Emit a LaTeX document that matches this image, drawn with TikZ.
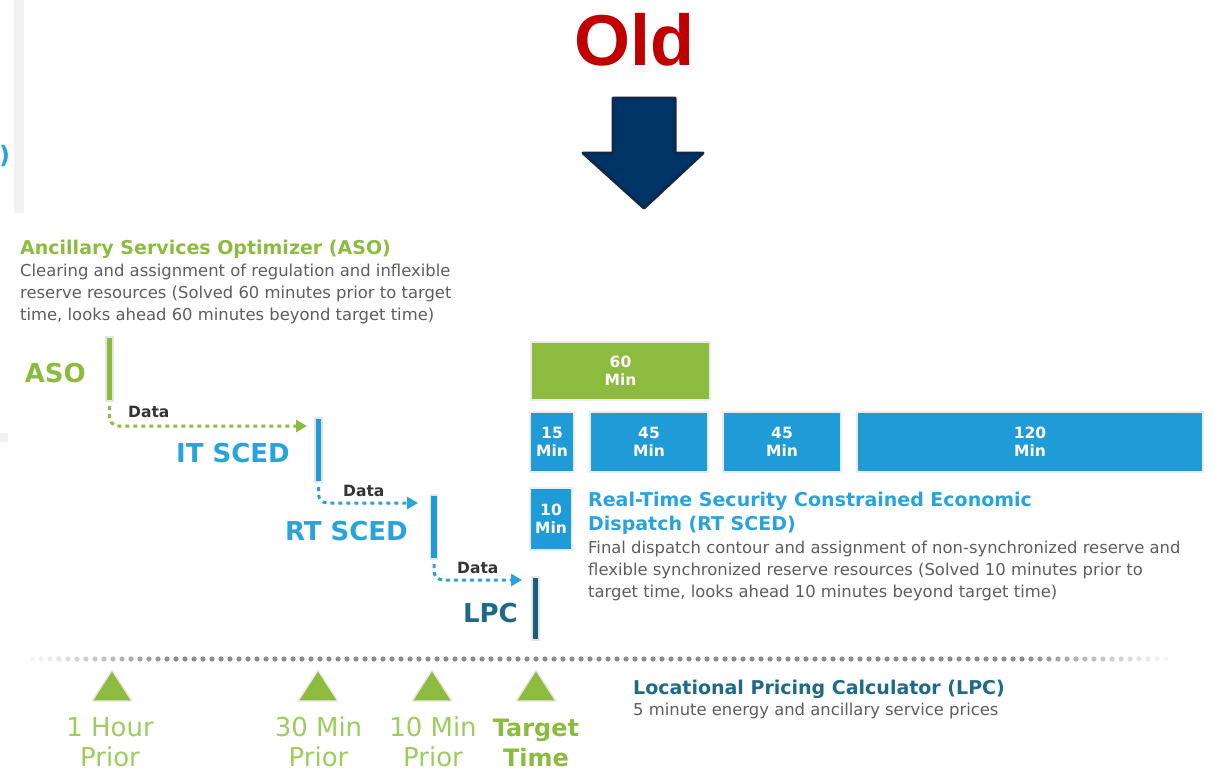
\documentclass[tikz,border=0pt]{standalone}
\usepackage{fontspec}
\setmainfont{DejaVu Sans}
\newfontfamily\oldfont{Liberation Sans}
\usetikzlibrary{arrows.meta,calc}
\definecolor{asog}{HTML}{8DBB3F}
\definecolor{tlg}{HTML}{9ECC5E}
\definecolor{blu}{HTML}{1F9BD7}
\definecolor{blut}{HTML}{29A3DC}
\definecolor{teal}{HTML}{175F7D}
\definecolor{tealt}{HTML}{1E6A88}
\definecolor{txtg}{HTML}{5E5E5E}
\definecolor{datag}{HTML}{333333}
\definecolor{oldred}{HTML}{C00000}
\definecolor{navy}{HTML}{003366}
\definecolor{navyb}{HTML}{0D2A4D}
\begin{document}
\begin{tikzpicture}[x=1pt,y=-1pt,
  bar/.style={draw=black!10, line width=1.5pt, minimum width=7pt, inner sep=0pt, outer sep=0pt},
  box/.style={draw=black!8, line width=2pt, inner sep=0pt, text=white, align=center,
    font=\bfseries\fontsize{15.5}{18}\selectfont},
  lbl/.style={font=\bfseries\fontsize{26}{30}\selectfont, inner sep=0pt, anchor=base east},
  title/.style={font=\bfseries\fontsize{19}{22}\selectfont, inner sep=0pt, anchor=base west},
  desc/.style={font=\fontsize{16.4}{20}\selectfont, text=txtg, inner sep=0pt, anchor=base west},
  datalbl/.style={font=\bfseries\fontsize{15.5}{18}\selectfont, text=datag, inner sep=0pt, anchor=base west},
  conn/.style={line width=3pt, dash pattern=on 4pt off 4pt, rounded corners=9pt,
    -{Triangle[length=11pt,width=12pt]}},
  tl/.style={font=\fontsize{26}{30}\selectfont, text=tlg, inner sep=0pt, anchor=base},
  tlb/.style={font=\bfseries\fontsize{24}{30}\selectfont, text=asog, inner sep=0pt, anchor=base},
  tri/.style={fill=asog, draw=black!8, line width=1.5pt, line join=round}
]
\fill[white] (0,0) rectangle (1214,772);
\useasboundingbox (0,0) rectangle (1214,772);

% left remnants
\fill[black!5] (14,0) rectangle (24,213);
\fill[black!5] (0,433) rectangle (8,442);
\node[text=blut, font=\bfseries\fontsize{24}{30}\selectfont, anchor=base west, inner sep=0pt] (paren) at (-1,163) {)};

% Old + arrow
\node[font=\oldfont\bfseries\fontsize{72}{80}\selectfont, text=oldred, anchor=base, inner sep=0pt] (old) at (634,65) {Old};
\draw[fill=navy, draw=navyb, line width=3pt, line join=round]
  (613,98) -- (675,98) -- (675,153) -- (703,153) -- (644,208) -- (583,153) -- (613,153) -- cycle;

% ASO text
\node[title, text=asog] (asotitle) at (20,254) {Ancillary Services Optimizer (ASO)};
\node[desc] (asod1) at (20,276) {Clearing and assignment of regulation and inflexible};
\node[desc] (asod2) at (20,298) {reserve resources (Solved 60 minutes prior to target};
\node[desc] (asod3) at (20,320) {time, looks ahead 60 minutes beyond target time)};

% bars
\node[bar, fill=asog, minimum height=64pt] (asobar) at (109.5,369) {};
\node[bar, fill=blu, minimum height=64pt] (itbar) at (318.5,450) {};
\node[bar, fill=blu, minimum height=64pt] (rtbar) at (434,527) {};
\node[bar, fill=teal, minimum height=63pt] (lpcbar) at (535.5,608.5) {};

% labels
\node[lbl, text=asog] (asol) at (86,382) {ASO};
\node[lbl, text=blut] (itl) at (290,462) {IT SCED};
\node[lbl, text=blut] (rtl) at (408,540) {RT SCED};
\node[lbl, text=tealt] (lpcl) at (518,622) {LPC};

% data connectors
\coordinate (d1) at (307,426);
\coordinate (d2) at (418,503);
\coordinate (d3) at (522,580);
\draw[conn, draw=asog] ($(asobar.south)+(0,5)$) |- (d1);
\draw[conn, draw=blut] ($(itbar.south)+(0,5)$) |- (d2);
\draw[conn, draw=blut] ($(rtbar.south)+(0,5)$) |- (d3);
\node[datalbl] (data1) at (128,417) {Data};
\node[datalbl] (data2) at (343,496) {Data};
\node[datalbl] (data3) at (457,573) {Data};

% boxes
\node[box, fill=asog, minimum width=179pt, minimum height=58pt] (b60) at (620.5,371) {60\\Min};
\node[box, fill=blu, minimum width=44pt, minimum height=60pt] (b15) at (552,442) {15\\Min};
\node[box, fill=blu, minimum width=118pt, minimum height=60pt] (b45a) at (649,442) {45\\Min};
\node[box, fill=blu, minimum width=118pt, minimum height=60pt] (b45b) at (782,442) {45\\Min};
\node[box, fill=blu, minimum width=346pt, minimum height=60pt] (b120) at (1030,442) {120\\Min};
\node[box, fill=blu, minimum width=42pt, minimum height=62pt] (b10) at (551,519) {10\\Min};

% RT SCED text
\node[title, text=blut] (rtt1) at (588,506) {Real-Time Security Constrained Economic};
\node[title, text=blut] (rtt2) at (588,530) {Dispatch (RT SCED)};
\node[desc] (rtd1) at (588,553) {Final dispatch contour and assignment of non-synchronized reserve and};
\node[desc] (rtd2) at (588,575) {flexible synchronized reserve resources (Solved 10 minutes prior to};
\node[desc] (rtd3) at (588,597) {target time, looks ahead 10 minutes beyond target time)};

% LPC text
\node[title, text=tealt] (lpct) at (633,694) {Locational Pricing Calculator (LPC)};
\node[desc] (lpcd) at (633,715) {5 minute energy and ancillary service prices};

% timeline dots
\foreach \x in {32,41,...,1168} {
  \pgfmathsetmacro\op{max(0.08,min(1,(\x-24)/150,(1176-\x)/150))}
  \fill[black!45, opacity=\op] (\x,659) circle (2.6pt);
}

% triangles
\foreach \x in {112,318,432,536} {
  \draw[tri] (\x-20,701) -- (\x,670) -- (\x+20,701) -- cycle;
}

% timeline labels
\node[tl] (h1a) at (110,736) {1 Hour};
\node[tl] (h1b) at (110,766) {Prior};
\node[tl] (m30a) at (318.5,736) {30 Min};
\node[tl] (m30b) at (318.5,766) {Prior};
\node[tl] (m10a) at (433,736) {10 Min};
\node[tl] (m10b) at (433,766) {Prior};
\node[tlb] (tta) at (536,736) {Target};
\node[tlb] (ttb) at (536,766) {Time};
\end{tikzpicture}
\end{document}
